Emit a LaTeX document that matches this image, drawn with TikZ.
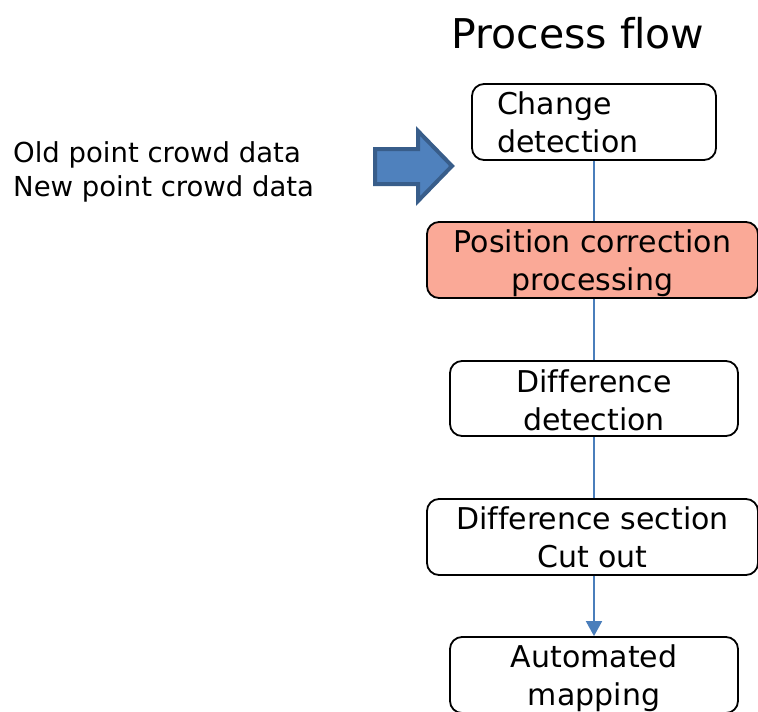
\documentclass[tikz,border=0pt]{standalone}
\usepackage{fontspec}
\setmainfont[Ligatures={NoCommon}]{DejaVu Sans}
\usetikzlibrary{arrows.meta}
\definecolor{flowblue}{RGB}{74,126,187}
\definecolor{arrowfill}{RGB}{79,129,189}
\definecolor{arrowedge}{RGB}{56,93,138}
\definecolor{salmon}{RGB}{250,169,151}
\tikzset{
  stepbox/.style={draw=black, line width=1.8pt, rounded corners=12pt, fill=white,
    font=\fontsize{30}{38}\selectfont, align=center, inner sep=0pt},
  flowline/.style={draw=flowblue, line width=1.8pt},
}
% strut that lowers a text block a little inside its node
\newcommand{\lowerby}[1]{\rule{0pt}{#1}}
\begin{document}
\begin{tikzpicture}[x=1pt, y=-1pt]
\useasboundingbox (0,0) rectangle (758,712);

% title
\node[font=\fontsize{41}{48}\selectfont, inner sep=0pt] (title) at (578,33) {Process flow};

% input data
\node[anchor=west, align=left, inner sep=0pt, font=\fontsize{27.5}{34}\selectfont] (input) at (13,169)
  {\lowerby{27pt}Old point crowd data\\New point crowd data};

% block arrow
\draw[fill=arrowfill, draw=arrowedge, line width=4pt, line join=miter]
  (375,149) -- (418,149) -- (418,131) -- (452,166) -- (418,201) -- (418,184) -- (375,184) -- cycle;

% process steps
\node[stepbox, minimum width=244pt, minimum height=76pt, text width=194pt, align=left] (s1) at (594,122)
  {Change\\detection};
\node[stepbox, fill=salmon, minimum width=331pt, minimum height=76pt] (s2) at (592.5,260)
  {\lowerby{30pt}Position correction\\processing};
\node[stepbox, minimum width=288pt, minimum height=75pt] (s3) at (594,398.5)
  {\lowerby{26pt}Difference\\detection};
\node[stepbox, minimum width=331pt, minimum height=76pt] (s4) at (592.5,537)
  {Difference section\\Cut out};
\node[stepbox, minimum width=288pt, minimum height=76pt] (s5) at (594,675)
  {\lowerby{30pt}Automated\\mapping};

% connectors
\draw[flowline] (s1.south) -- (s1.south |- s2.north);
\draw[flowline] (s1.south |- s2.south) -- (s1.south |- s3.north);
\draw[flowline] (s1.south |- s3.south) -- (s1.south |- s4.north);
\draw[flowline, -{Triangle[width=16pt,length=15pt]}] (s1.south |- s4.south) -- (s1.south |- s5.north);
\end{tikzpicture}
\end{document}
